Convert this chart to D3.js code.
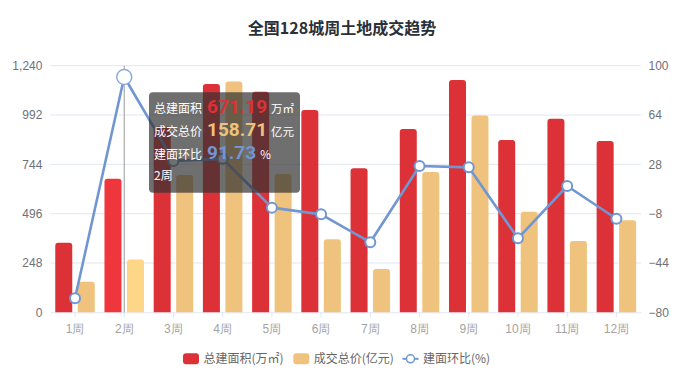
<!DOCTYPE html>
<html>
<head>
<meta charset="utf-8">
<script src="https://cdn.jsdelivr.net/npm/d3@7"></script>
<style>
  body { margin: 0; background: #fff; }
  svg { font-family: "Noto Sans CJK SC", "Noto Sans", sans-serif; display: block; }
</style>
</head>
<body>
<svg id="chart" width="687" height="378"></svg>
<script>
// Data
const weeks = ["1周", "2周", "3周", "4周", "5周", "6周", "7周", "8周", "9周", "10周", "11周", "12周"];
const areaValues = [350, 671.19, 933, 1148, 1109, 1017, 724, 922, 1168, 866, 973, 861];
const priceValues = [154, 266, 690, 1160, 695, 367, 218, 705, 989, 506, 358, 463];
const ratioValues = [-69.8, 91.73, 30.5, 32, -3.6, -8.5, -28.9, 26.8, 25.8, -26, 12.2, -11.7];
const leftTicks = [0, 248, 496, 744, 992, 1240];
const rightTicks = [-80, -44, -8, 28, 64, 100];
const seriesNames = ["总建面积(万㎡)", "成交总价(亿元)", "建面环比(%)"];

// Tooltip as shown in the picture (hovering on 2周)
const hoverIndex = 1;
const tipLabels = ["总建面积", "成交总价", "建面环比"];
const tipValues = ["671.19", "158.71", "91.73"];
const tipUnits = ["万㎡", "亿元", "%"];

class ComboChart {
  constructor(_config) {
    this.config = {
      parentElement: _config.parentElement,
      margin: { top: 65.7, bottom: 65.7, left: 50.4, right: 46 },
      containerWidth: 687,
      containerHeight: 378
    };
    this.colors = {
      area: "#dc3137", areaHi: "#ef363c",
      price: "#efc37d", priceHi: "#fdd688",
      line: "#7196d2"
    };
    this.initVis();
  }

  initVis() {
    let vis = this;
    const m = vis.config.margin;
    vis.width = vis.config.containerWidth - m.left - m.right;
    vis.height = 312.3 - m.top;

    vis.svg = d3.select(vis.config.parentElement);
    vis.chart = vis.svg.append("g")
      .attr("transform", `translate(${m.left},${m.top})`);

    vis.xScale = d3.scaleBand().domain(weeks).range([0, vis.width]);
    // two bars per week, 17px wide with a small gap
    vis.xInner = d3.scaleBand().domain(["area", "price"])
      .range([-19.75, 19.75]).paddingInner(0.244);
    vis.yLeft = d3.scaleLinear().domain([0, 1240]).range([vis.height, 0]);
    vis.yRight = d3.scaleLinear().domain([-80, 100]).range([vis.height, 0]);

    // Title
    vis.svg.append("text")
      .attr("x", 342).attr("y", 34)
      .attr("text-anchor", "middle")
      .attr("font-size", 16).attr("font-weight", "bold")
      .attr("fill", "#2b2f38")
      .text("全国128城周土地成交趋势");
  }

  render() {
    let vis = this;

    // Grid lines
    vis.chart.append("g").selectAll("line")
      .data(leftTicks.slice(1))
      .join("line")
        .attr("x1", 0).attr("x2", vis.width)
        .attr("y1", d => vis.yLeft(d)).attr("y2", d => vis.yLeft(d))
        .attr("stroke", "#e0e6f1");

    // Left axis
    const leftAxis = vis.chart.append("g")
      .call(d3.axisLeft(vis.yLeft).tickValues(leftTicks).tickFormat(d3.format(",")).tickSize(0).tickPadding(8));
    leftAxis.select(".domain").remove();
    leftAxis.selectAll("text").attr("font-size", 12).attr("fill", "#6e7079").attr("font-family", null);

    // Right axis
    const rightAxis = vis.chart.append("g")
      .attr("transform", `translate(${vis.width},0)`)
      .call(d3.axisRight(vis.yRight).tickValues(rightTicks).tickSize(0).tickPadding(7.5));
    rightAxis.select(".domain").remove();
    rightAxis.selectAll("text").attr("font-size", 12).attr("fill", "#6e7079").attr("font-family", null);

    // Bottom axis
    const xAxis = vis.chart.append("g")
      .attr("transform", `translate(0,${vis.height})`)
      .call(d3.axisBottom(vis.xScale).tickSizeInner(5).tickSizeOuter(0).tickPadding(7));
    xAxis.select(".domain").attr("stroke", "#e0e6f1");
    xAxis.selectAll(".tick line").attr("stroke", "#e0e6f1");
    xAxis.selectAll("text").attr("font-size", 12).attr("fill", "#a3a3a3").attr("font-family", null);

    // Bars with rounded tops
    const topRounded = (x, y, w, h, r) => {
      r = Math.min(r, h);
      return `M${x},${y + h}V${y + r}Q${x},${y} ${x + r},${y}H${x + w - r}Q${x + w},${y} ${x + w},${y + r}V${y + h}Z`;
    };
    const bw = vis.xInner.bandwidth();
    const barGroups = [
      { key: "area", values: areaValues, color: vis.colors.area, hi: vis.colors.areaHi },
      { key: "price", values: priceValues, color: vis.colors.price, hi: vis.colors.priceHi }
    ];
    barGroups.forEach(s => {
      vis.chart.append("g").selectAll("path")
        .data(s.values)
        .join("path")
          .attr("d", (d, i) => {
            const x = vis.xScale(weeks[i]) + vis.xScale.bandwidth() / 2 + vis.xInner(s.key);
            const y = vis.yLeft(d);
            return topRounded(x, y, bw, vis.height - y, 3);
          })
          .attr("fill", (d, i) => i === hoverIndex ? s.hi : s.color);
    });

    // Axis pointer on the hovered week
    const hx = vis.xScale(weeks[hoverIndex]) + vis.xScale.bandwidth() / 2;
    vis.chart.append("line")
      .attr("x1", hx).attr("x2", hx)
      .attr("y1", 0).attr("y2", vis.height)
      .attr("stroke", "#9a9a9a").attr("stroke-width", 1);

    // Ratio line on the right axis
    const line = d3.line()
      .x((d, i) => vis.xScale(weeks[i]) + vis.xScale.bandwidth() / 2)
      .y(d => vis.yRight(d));
    vis.chart.append("path")
      .datum(ratioValues)
      .attr("d", line)
      .attr("fill", "none")
      .attr("stroke", vis.colors.line)
      .attr("stroke-width", 2.6)
      .attr("stroke-linejoin", "round");

    vis.chart.append("g").selectAll("circle")
      .data(ratioValues)
      .join("circle")
        .attr("cx", (d, i) => vis.xScale(weeks[i]) + vis.xScale.bandwidth() / 2)
        .attr("cy", d => vis.yRight(d))
        .attr("r", (d, i) => i === hoverIndex ? 7.5 : 5)
        .attr("fill", "#fff")
        .attr("stroke", (d, i) => i === hoverIndex ? "#8fabdc" : vis.colors.line)
        .attr("stroke-width", (d, i) => i === hoverIndex ? 1.5 : 2);

    vis.renderLegend();
    vis.renderTooltip();
  }

  renderLegend() {
    let vis = this;
    const legend = vis.svg.append("g").attr("transform", "translate(0,358.8)");
    const items = [
      { x: 183, type: "rect", color: vis.colors.area },
      { x: 293.3, type: "rect", color: vis.colors.price },
      { x: 402.5, type: "line", color: vis.colors.line }
    ];
    items.forEach((it, i) => {
      if (it.type === "rect") {
        legend.append("rect")
          .attr("x", it.x).attr("y", -5.5)
          .attr("width", 16).attr("height", 11).attr("rx", 3)
          .attr("fill", it.color);
      } else {
        legend.append("line")
          .attr("x1", it.x).attr("x2", it.x + 16)
          .attr("stroke", it.color).attr("stroke-width", 2);
        legend.append("circle")
          .attr("cx", it.x + 8).attr("r", 4)
          .attr("fill", "#fff").attr("stroke", it.color).attr("stroke-width", 1.5);
      }
      legend.append("text")
        .attr("x", it.x + 20.5).attr("dy", "0.35em")
        .attr("font-size", 12).attr("fill", "#666")
        .text(seriesNames[i]);
    });
  }

  renderTooltip() {
    let vis = this;
    const tip = vis.svg.append("g").attr("transform", "translate(149,92.3)");
    tip.append("rect")
      .attr("width", 151).attr("height", 100.5).attr("rx", 4)
      .attr("fill", "rgba(50,50,50,0.7)");
    const valueColors = [vis.colors.area, vis.colors.price, vis.colors.line];
    tipLabels.forEach((label, i) => {
      const row = tip.append("text")
        .attr("x", 5).attr("y", 16.5 + i * 22.8).attr("dy", "0.35em")
        .attr("fill", "#fff").attr("font-size", 12);
      row.append("tspan").text(label);
      // Roboto keeps the big numbers' line box inside the row height
      row.append("tspan")
        .attr("dx", 5).attr("font-size", 19).attr("font-weight", "bold")
        .attr("font-family", "Roboto, sans-serif")
        .attr("fill", valueColors[i])
        .text(tipValues[i]);
      row.append("tspan").attr("dx", 4).attr("font-size", 11.5).text(tipUnits[i]);
    });
    tip.append("text")
      .attr("x", 5).attr("y", 84).attr("dy", "0.35em")
      .attr("fill", "#fff").attr("font-size", 12)
      .text(weeks[hoverIndex]);
  }
}

const chart = new ComboChart({ parentElement: "#chart" });
chart.render();
</script>
</body>
</html>
